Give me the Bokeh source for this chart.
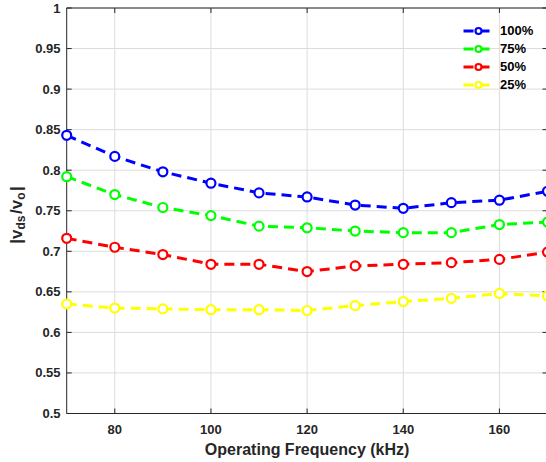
import math
from bokeh.plotting import figure
from bokeh.models import Legend, LegendItem, Range1d, Grid
from bokeh.core.properties import value
from bokeh.embed import file_html
from bokeh.resources import INLINE

# ---- data ----
freq = [70, 80, 90, 100, 110, 120, 130, 140, 150, 160, 170]
load_100 = [0.843, 0.817, 0.798, 0.784, 0.772, 0.767, 0.757, 0.753, 0.760, 0.763, 0.774]
load_75 = [0.792, 0.770, 0.754, 0.744, 0.731, 0.729, 0.725, 0.723, 0.723, 0.733, 0.736]
load_50 = [0.716, 0.705, 0.696, 0.684, 0.684, 0.675, 0.682, 0.684, 0.686, 0.690, 0.699]
load_25 = [0.635, 0.630, 0.629, 0.628, 0.628, 0.627, 0.633, 0.638, 0.642, 0.648, 0.645]
series_labels = ["100%", "75%", "50%", "25%"]
series_colors = ["#0000FF", "#00FF00", "#FF0000", "#FFFF00"]
x_ticks = [80, 100, 120, 140, 160]
x_tick_labels = ["80", "100", "120", "140", "160"]
y_ticks = [0.5, 0.55, 0.6, 0.65, 0.7, 0.75, 0.8, 0.85, 0.9, 0.95, 1.0]
y_tick_labels = ["0.5", "0.55", "0.6", "0.65", "0.7", "0.75", "0.8", "0.85", "0.9", "0.95", "1"]
x_label = "Operating Frequency (kHz)"
y_label_parts = ["|", "v", "ds", "/", "v", "o", "|"]
y_label_is_sub = [False, False, True, False, False, True, False]

FONT = "Liberation Sans"
AXC = "#262626"
GRID = "#dcdcdc"

# ---- layout (pixels) ----
W, H = 546, 462
X0, X1, Y0, Y1 = 70, 170, 0.5, 1.0
PX_L, PX_R = 66.2, 547.0      # screen x of X0 and X1
PY_T, PY_B = 7.5, 413.0       # screen y of Y1 and Y0
TICK = 5
SX = (PX_R - PX_L) / (X1 - X0)
SY = (PY_B - PY_T) / (Y1 - Y0)

def dx(px):
    return X0 + (px - PX_L) / SX

def dy(py):
    return Y0 + (PY_B - py) / SY

p = figure(width=W, height=H, x_range=Range1d(dx(0), dx(W)), y_range=Range1d(dy(H), dy(0)),
           output_backend="svg", toolbar_location=None,
           x_axis_location=None, y_axis_location=None, min_border=0)
p.outline_line_color = None
p.background_fill_color = "white"
p.border_fill_color = "white"
# remove any automatic grids (the grid is drawn below, limited to the axes box)
p.renderers = [r for r in p.renderers if not isinstance(r, Grid)]
p.center = [r for r in p.center if not isinstance(r, Grid)]

# grid
p.segment(x0=x_ticks, y0=[Y0] * len(x_ticks), x1=x_ticks, y1=[Y1] * len(x_ticks),
          line_color=GRID, line_width=1)
p.segment(x0=[X0] * len(y_ticks), y0=y_ticks, x1=[X1] * len(y_ticks), y1=y_ticks,
          line_color=GRID, line_width=1)

# axes box
p.quad(left=[X0], right=[X1], bottom=[Y0], top=[Y1], fill_color=None,
       line_color=AXC, line_width=1)

# inward ticks on all four sides
nx, ny = len(x_ticks), len(y_ticks)
p.segment(x0=x_ticks, y0=[Y0] * nx, x1=x_ticks, y1=[Y0 + TICK / SY] * nx, line_color=AXC, line_width=1)
p.segment(x0=x_ticks, y0=[Y1] * nx, x1=x_ticks, y1=[Y1 - TICK / SY] * nx, line_color=AXC, line_width=1)
p.segment(x0=[X0] * ny, y0=y_ticks, x1=[X0 + TICK / SX] * ny, y1=y_ticks, line_color=AXC, line_width=1)
p.segment(x0=[X1] * ny, y0=y_ticks, x1=[X1 - TICK / SX] * ny, y1=y_ticks, line_color=AXC, line_width=1)

# tick labels
p.text(x=[dx(60)] * ny, y=y_ticks, text=y_tick_labels, text_align="right",
       text_baseline="middle", text_font=value(FONT), text_font_style="bold",
       text_font_size="13px", text_color=AXC)
p.text(x=x_ticks, y=[dy(428.5)] * nx, text=x_tick_labels, text_align="center",
       text_baseline="middle", text_font=value(FONT), text_font_style="bold",
       text_font_size="13px", text_color=AXC)

# x axis label
p.text(x=[(X0 + X1) / 2], y=[dy(449)], text=[x_label], text_align="center",
       text_baseline="middle", text_font=value(FONT), text_font_style="bold",
       text_font_size="16px", text_color=AXC)

# y axis label |v_ds/v_o| composed of rotated pieces
adv = {"|": 0.280, "v": 0.556, "/": 0.278, "d": 0.611, "s": 0.556, "o": 0.611}
MAIN_FS, SUB_FS, SUB_OFF, SUB_GAP, LX, LY = 17, 12, 4, 1.5, 16, 214.5
sizes = [SUB_FS if s else MAIN_FS for s in y_label_is_sub]
lens = [sum(adv[c] for c in t) * fs + (SUB_GAP if s else 0)
        for t, fs, s in zip(y_label_parts, sizes, y_label_is_sub)]
py = LY + sum(lens) / 2
for t, fs, s, L in zip(y_label_parts, sizes, y_label_is_sub, lens):
    p.text(x=[dx(LX + (SUB_OFF if s else 0))], y=[dy(py)], text=[t], angle=math.pi / 2,
           text_align="left", text_baseline="middle", text_font=value(FONT),
           text_font_style="bold", text_font_size=f"{fs}px", text_color=AXC)
    py -= L

# data series
items = []
for lab, col, ys in zip(series_labels, series_colors, [load_100, load_75, load_50, load_25]):
    ln = p.line(freq, ys, line_color=col, line_width=3, line_dash="10 6")
    sc = p.scatter(freq, ys, marker="circle", size=9, line_color=col, line_width=2.2,
                   fill_color="white")
    items.append(LegendItem(label=lab, renderers=[ln, sc]))

leg = Legend(items=items, location=(463, 370))
leg.border_line_color = None
leg.background_fill_alpha = 0
leg.label_text_font = FONT
leg.label_text_font_style = "bold"
leg.label_text_font_size = "13px"
leg.label_text_color = "black"
leg.glyph_width = 30
leg.glyph_height = 15
leg.label_height = 15
leg.spacing = 3
leg.padding = 0
leg.margin = 0
leg.label_standoff = 7
p.add_layout(leg, "center")

open("out.html", "w").write(file_html(p, INLINE))
